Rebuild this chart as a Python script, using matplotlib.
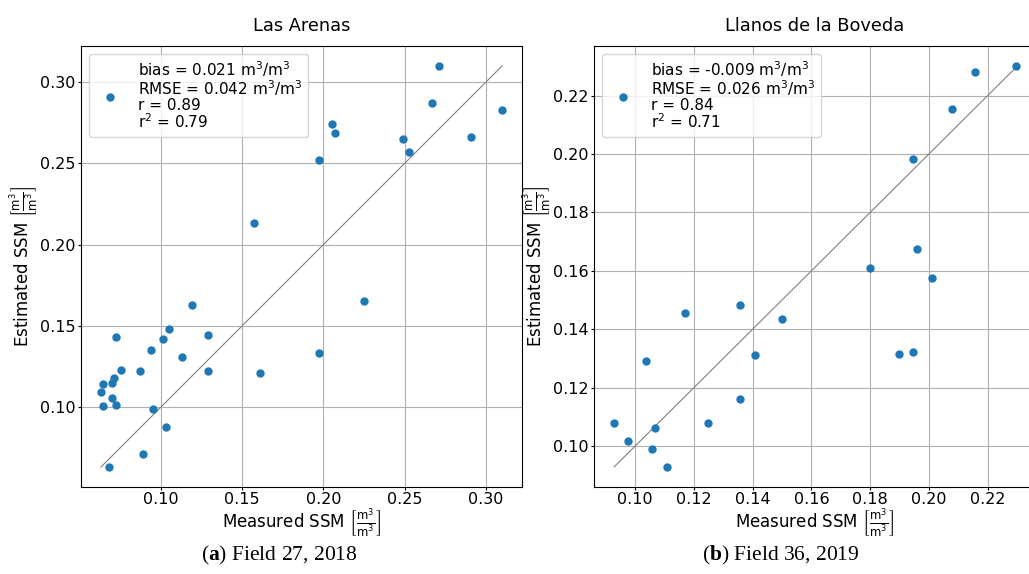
#!/usr/bin/env python3
"""
ssm_scatter.py — Estimated vs measured surface soil moisture, two fields.

Left: Las Arenas (Field 27, 2018), right: Llanos de la Boveda (Field 36, 2019).
Each panel has a 1:1 line over the measured range and a stats legend.
"""

import matplotlib
matplotlib.use("Agg")
import matplotlib.pyplot as plt

# =============================================================================
# DATA
# =============================================================================
# --- Field 27, 2018 (Las Arenas) ---
arenas_measured = [0.271, 0.267, 0.310, 0.205, 0.207, 0.197, 0.249, 0.253, 0.291,
                   0.157, 0.119, 0.225, 0.105, 0.072, 0.101, 0.129, 0.094, 0.113,
                   0.197, 0.075, 0.087, 0.129, 0.161, 0.071, 0.070, 0.064, 0.063,
                   0.070, 0.064, 0.072, 0.095, 0.103, 0.089, 0.068]
arenas_estimated = [0.310, 0.287, 0.283, 0.274, 0.269, 0.252, 0.265, 0.257, 0.266,
                    0.213, 0.163, 0.165, 0.148, 0.143, 0.142, 0.144, 0.135, 0.131,
                    0.133, 0.123, 0.122, 0.122, 0.121, 0.1175, 0.1146, 0.1144, 0.1093,
                    0.1056, 0.1006, 0.1014, 0.0986, 0.0874, 0.0710, 0.0630]
arenas_stats = ["bias = 0.021 m$^3$/m$^3$", "RMSE = 0.042 m$^3$/m$^3$",
                "r = 0.89", "r$^2$ = 0.79"]

# --- Field 36, 2019 (Llanos de la Boveda) ---
boveda_measured = [0.2296, 0.2158, 0.2078, 0.1947, 0.1959, 0.1799, 0.2009, 0.1169,
                   0.1358, 0.1499, 0.1409, 0.1039, 0.1897, 0.1947, 0.1358, 0.1248,
                   0.0929, 0.1068, 0.0978, 0.1059, 0.1109]
boveda_estimated = [0.2301, 0.2282, 0.2155, 0.1984, 0.1675, 0.1611, 0.1577, 0.1457,
                    0.1482, 0.1435, 0.1313, 0.1290, 0.1315, 0.1323, 0.1160, 0.1081,
                    0.1078, 0.1063, 0.1019, 0.0989, 0.0930]
boveda_stats = ["bias = -0.009 m$^3$/m$^3$", "RMSE = 0.026 m$^3$/m$^3$",
                "r = 0.84", "r$^2$ = 0.71"]

titles = ["Las Arenas", "Llanos de la Boveda"]
captions = [r"($\mathbf{a}$) Field 27, 2018", r"($\mathbf{b}$) Field 36, 2019"]

UNIT = r"$\left[\frac{\mathrm{m}^3}{\mathrm{m}^3}\right]$"

# caption font (serif, bold panel letter via mathtext)
plt.rcParams["mathtext.bf"] = "Liberation Serif:bold"
plt.rcParams["mathtext.rm"] = "Liberation Serif"
plt.rcParams["xtick.major.size"] = 2.0
plt.rcParams["ytick.major.size"] = 2.0
plt.rcParams["xtick.major.pad"] = 1.8
plt.rcParams["ytick.major.pad"] = 1.8


def draw_panel(ax, measured, estimated, stats, title):
    ax.grid(True, color="#b0b0b0", linewidth=0.8)
    ax.set_axisbelow(True)
    ax.scatter(measured, estimated, s=25, color="#1f77b4", zorder=3,
               label="\n".join(stats))
    lo, hi = min(measured), max(measured)
    ax.plot([lo, hi], [lo, hi], color="gray", linewidth=0.8, zorder=2)
    ax.set_title(title, fontsize=12.8, pad=11)
    ax.set_xlabel("Measured SSM " + UNIT, fontsize=12, labelpad=0)
    ax.set_ylabel("Estimated SSM " + UNIT, fontsize=12, labelpad=-1)
    ax.tick_params(labelsize=11.5)
    leg = ax.legend(loc="upper left", fontsize=11)
    # mathtext superscripts make lines taller; squeeze back to the original spacing
    for t in leg.get_texts():
        t.set_linespacing(0.95)


def main():
    W, H = 1029, 574
    fig = plt.figure(figsize=(W / 100, H / 100), dpi=100)

    # axes boxes in pixels: left, bottom(from top), size
    ax_l = fig.add_axes([81 / W, (H - 487) / H, 441 / W, 441 / H])
    ax_r = fig.add_axes([594 / W, (H - 487) / H, 442 / W, 441 / H])

    draw_panel(ax_l, arenas_measured, arenas_estimated, arenas_stats, titles[0])
    draw_panel(ax_r, boveda_measured, boveda_estimated, boveda_stats, titles[1])

    # sub-figure captions
    for cx, cap in zip((279, 781), captions):
        fig.text(cx / W, (H - 560) / H, cap, ha="center", va="baseline",
                 family="Liberation Serif", fontsize=15.5, math_fontfamily="custom")

    fig.savefig("out.png", dpi=100)


if __name__ == "__main__":
    main()
